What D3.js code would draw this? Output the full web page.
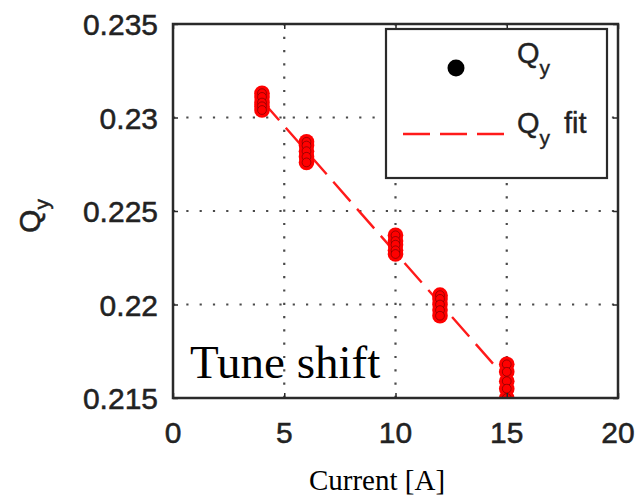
<!DOCTYPE html>
<html>
<head>
<meta charset="utf-8">
<script src="https://cdn.jsdelivr.net/npm/d3@7/dist/d3.min.js"></script>
<style>
  html, body { margin: 0; padding: 0; background: #fff; }
  svg { display: block; }
</style>
</head>
<body>
<svg id="chart" width="636" height="496"></svg>
<script>
// Measured vertical tune Q_y at each coil current (several shots per setting)
const currentA = [4, 6, 10, 12, 15];
const qySamples = [
  [0.2313, 0.2311, 0.2308, 0.2306, 0.2304],
  [0.2287, 0.2285, 0.2282, 0.2279, 0.2276],
  [0.2237, 0.2234, 0.2232, 0.2229, 0.2227],
  [0.2205, 0.2203, 0.2200, 0.2197, 0.2194],
  [0.2168, 0.2164, 0.2159, 0.2155, 0.2150]
];
// Linear fit end points
const fitCurrent = [4, 15];
const fitQy = [0.2309, 0.2160];

const xTicks = [0, 5, 10, 15, 20];
const yTicks = [0.215, 0.22, 0.225, 0.23, 0.235];
const yTickLabels = ["0.215", "0.22", "0.225", "0.23", "0.235"];

const svg = d3.select("#chart");
const pLeft = 173, pRight = 618, pTop = 24, pBottom = 398;

const x = d3.scaleLinear().domain([0, 20]).range([pLeft, pRight]);
const y = d3.scaleLinear().domain([0.215, 0.235]).range([pBottom, pTop]);

const sans = "'Liberation Sans', Arial, sans-serif";
const serif = "'Liberation Serif', 'Times New Roman', serif";
const ink = "#222";

svg.append("defs").append("clipPath").attr("id", "plotClip")
  .append("rect").attr("x", pLeft).attr("y", pTop)
  .attr("width", pRight - pLeft).attr("height", pBottom - pTop);

// dotted grid
const grid = svg.append("g").attr("stroke", "#4a4a4a").attr("stroke-width", 2.2)
  .attr("stroke-dasharray", "2.2,11.1");
grid.selectAll("line.gx").data(xTicks.slice(1, -1)).join("line")
  .attr("x1", d => x(d)).attr("x2", d => x(d))
  .attr("y1", pBottom).attr("y2", pTop);
grid.selectAll("line.gy").data(yTicks.slice(1, -1)).join("line")
  .attr("y1", d => y(d)).attr("y2", d => y(d))
  .attr("x1", pLeft).attr("x2", pRight);

// fit line
const plot = svg.append("g").attr("clip-path", "url(#plotClip)");
const fitLine = d3.line().x(d => x(d[0])).y(d => y(d[1]));
plot.append("path")
  .datum(fitCurrent.map((c, i) => [c, fitQy[i]]))
  .attr("d", fitLine)
  .attr("fill", "none").attr("stroke", "#ff1a1a").attr("stroke-width", 2.4)
  .attr("stroke-dasharray", "26,10");

// data markers: red halo underneath, then outlined markers
const pts = [];
currentA.forEach((c, i) => qySamples[i].forEach(q => pts.push({ c, q })));
plot.selectAll("circle.halo").data(pts).join("circle")
  .attr("class", "halo")
  .attr("cx", d => x(d.c)).attr("cy", d => y(d.q)).attr("r", 7.8)
  .attr("fill", "#ff0000");
plot.selectAll("circle.pt").data(pts).join("circle")
  .attr("class", "pt")
  .attr("cx", d => x(d.c)).attr("cy", d => y(d.q)).attr("r", 4.4)
  .attr("fill", "#ff0000").attr("stroke", "#300").attr("stroke-opacity", 0.5)
  .attr("stroke-width", 0.9);

// frame and inner ticks
svg.append("rect").attr("x", pLeft).attr("y", pTop)
  .attr("width", pRight - pLeft).attr("height", pBottom - pTop)
  .attr("fill", "none").attr("stroke", "#2a2a2a").attr("stroke-width", 2.5);

const xAxisB = d3.axisBottom(x).tickValues(xTicks).tickSize(-5).tickFormat(() => "");
const xAxisT = d3.axisTop(x).tickValues(xTicks).tickSize(-5).tickFormat(() => "");
const yAxisL = d3.axisLeft(y).tickValues(yTicks).tickSize(-5).tickFormat(() => "");
const yAxisR = d3.axisRight(y).tickValues(yTicks).tickSize(-5).tickFormat(() => "");
[[xAxisB, `translate(0,${pBottom})`], [xAxisT, `translate(0,${pTop})`],
 [yAxisL, `translate(${pLeft},0)`], [yAxisR, `translate(${pRight},0)`]].forEach(([ax, tr]) => {
  const g = svg.append("g").attr("transform", tr).call(ax);
  g.select(".domain").remove();
  g.selectAll("line").attr("stroke", "#2a2a2a").attr("stroke-width", 1.5);
});

// tick labels
const labelStyle = sel => sel
  .attr("font-family", sans).attr("font-size", 30).attr("fill", ink)
  .attr("stroke", ink).attr("stroke-width", 0.5);
svg.append("g").selectAll("text").data(xTicks).join("text")
  .attr("x", d => x(d)).attr("y", 443)
  .attr("text-anchor", "middle")
  .call(labelStyle)
  .text(d => d);
svg.append("g").selectAll("text").data(yTicks).join("text")
  .attr("x", 158).attr("y", d => y(d) + 11)
  .attr("text-anchor", "end")
  .call(labelStyle)
  .text((d, i) => yTickLabels[i]);

// y axis title
const yt = svg.append("text")
  .attr("transform", "translate(40,216) rotate(-90)")
  .attr("text-anchor", "middle")
  .call(labelStyle);
yt.append("tspan").text("Q");
yt.append("tspan").attr("font-size", 21).attr("dy", 9).text("y");

// x axis title
svg.append("text").attr("x", 377).attr("y", 490)
  .attr("text-anchor", "middle")
  .attr("font-family", serif).attr("font-size", 29).attr("fill", "#000")
  .text("Current [A]");

// annotation
svg.append("text").attr("x", 190).attr("y", 378)
  .attr("font-family", serif).attr("font-size", 47).attr("fill", "#000")
  .text("Tune shift");

// legend
const lg = svg.append("g");
lg.append("rect").attr("x", 386).attr("y", 29).attr("width", 221).attr("height", 149)
  .attr("fill", "#fff").attr("stroke", "#2a2a2a").attr("stroke-width", 2.2);
lg.append("circle").attr("cx", 456).attr("cy", 68).attr("r", 8.5).attr("fill", "#000");
lg.append("line").attr("x1", 403).attr("x2", 504).attr("y1", 134).attr("y2", 134)
  .attr("stroke", "#ff1a1a").attr("stroke-width", 2.4).attr("stroke-dasharray", "27,10");
const legendStyle = sel => sel
  .attr("font-family", sans).attr("font-size", 29).attr("fill", ink)
  .attr("stroke", ink).attr("stroke-width", 0.4);
const l1 = lg.append("text").attr("x", 517).attr("y", 63).call(legendStyle);
l1.append("tspan").text("Q");
l1.append("tspan").attr("font-size", 21).attr("dy", 12).text("y");
const l2 = lg.append("text").attr("x", 517).attr("y", 133).call(legendStyle);
l2.append("tspan").text("Q");
l2.append("tspan").attr("font-size", 21).attr("dy", 12).text("y");
l2.append("tspan").attr("x", 564).attr("dy", -12).text("fit");
</script>
</body>
</html>
